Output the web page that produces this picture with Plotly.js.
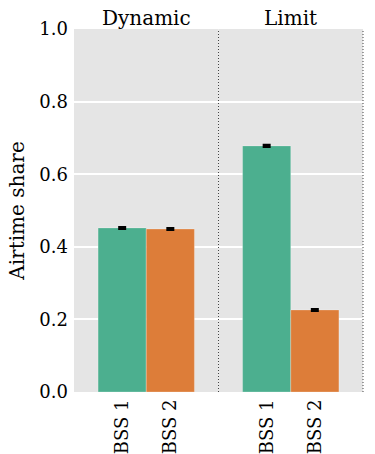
<!DOCTYPE html>
<html><head><meta charset="utf-8">
<script src="https://cdn.plot.ly/plotly-3.0.1.min.js"></script>
<style>html,body{margin:0;padding:0;background:#fff}#chart{width:375px;height:454px}</style>
</head><body><div id="chart"></div>
<script>
const categories = ["BSS 1", "BSS 2"];
const facets = ["Dynamic", "Limit"];
const dynamicValues = [0.452, 0.449];
const limitValues = [0.678, 0.226];
const dynamicErrors = [0.0015, 0.0015];
const limitErrors = [0.0015, 0.0015];
const yTicks = [0.0, 0.2, 0.4, 0.6, 0.8, 1.0];
const barColors = ["#4caf8f", "#dd7d39"];

const font = {family: "DejaVu Serif", size: 18, color: "#000"};
const xfont = {family: "DejaVu Serif", size: 18, color: "#000"};
const titleFont = {family: "DejaVu Serif", size: 20, color: "#000"};
function trace(vals, errs, xa) {
  return {
    type: "bar", x: categories, y: vals, xaxis: xa, yaxis: "y",
    width: 1,
    marker: {color: barColors, line: {color: "rgba(255,255,255,0.25)", width: 1}},
    error_y: {type: "data", array: errs, visible: true, color: "#000", thickness: 3, width: 4},
    showlegend: false, hoverinfo: "none"
  };
}
const data = [trace(dynamicValues, dynamicErrors, "x"), trace(limitValues, limitErrors, "x2")];
const xbase = {type: "category", range: [-1, 2], tickangle: -90, showgrid: false, zeroline: false,
  ticks: "", tickfont: xfont, fixedrange: true, anchor: "y", ticklabelstandoff: 3};
const layout = {
  width: 375, height: 454,
  margin: {l: 74, r: 12, t: 29, b: 62},
  paper_bgcolor: "#fff", plot_bgcolor: "#e5e5e5",
  font: font,
  bargap: 0,
  xaxis: Object.assign({}, xbase, {domain: [0, 0.5]}),
  xaxis2: Object.assign({}, xbase, {domain: [0.5, 1]}),
  yaxis: {range: [0, 1], tickvals: yTicks, ticktext: yTicks.map(v => v.toFixed(1)),
    showgrid: true, gridcolor: "#fff", gridwidth: 2, zeroline: false, ticks: "",
    ticklabelstandoff: 5,
    tickfont: font, title: {text: "Airtime share", font: titleFont, standoff: 9}},
  shapes: [
    {type: "line", xref: "paper", yref: "paper", x0: 0.5, x1: 0.5, y0: 0, y1: 1,
     line: {color: "#444", width: 1, dash: "1px,2px"}},
    {type: "line", xref: "paper", yref: "paper", x0: 1, x1: 1, y0: 0, y1: 1,
     line: {color: "#444", width: 1, dash: "1px,2px"}}
  ],
  annotations: facets.map((f, i) => ({text: f, xref: "paper", yref: "paper", x: 0.25 + 0.5 * i, y: 1,
    yanchor: "bottom", xanchor: "center", showarrow: false, font: titleFont, yshift: -3}))
};
Plotly.newPlot("chart", data, layout, {staticPlot: true, displayModeBar: false});
</script></body></html>
